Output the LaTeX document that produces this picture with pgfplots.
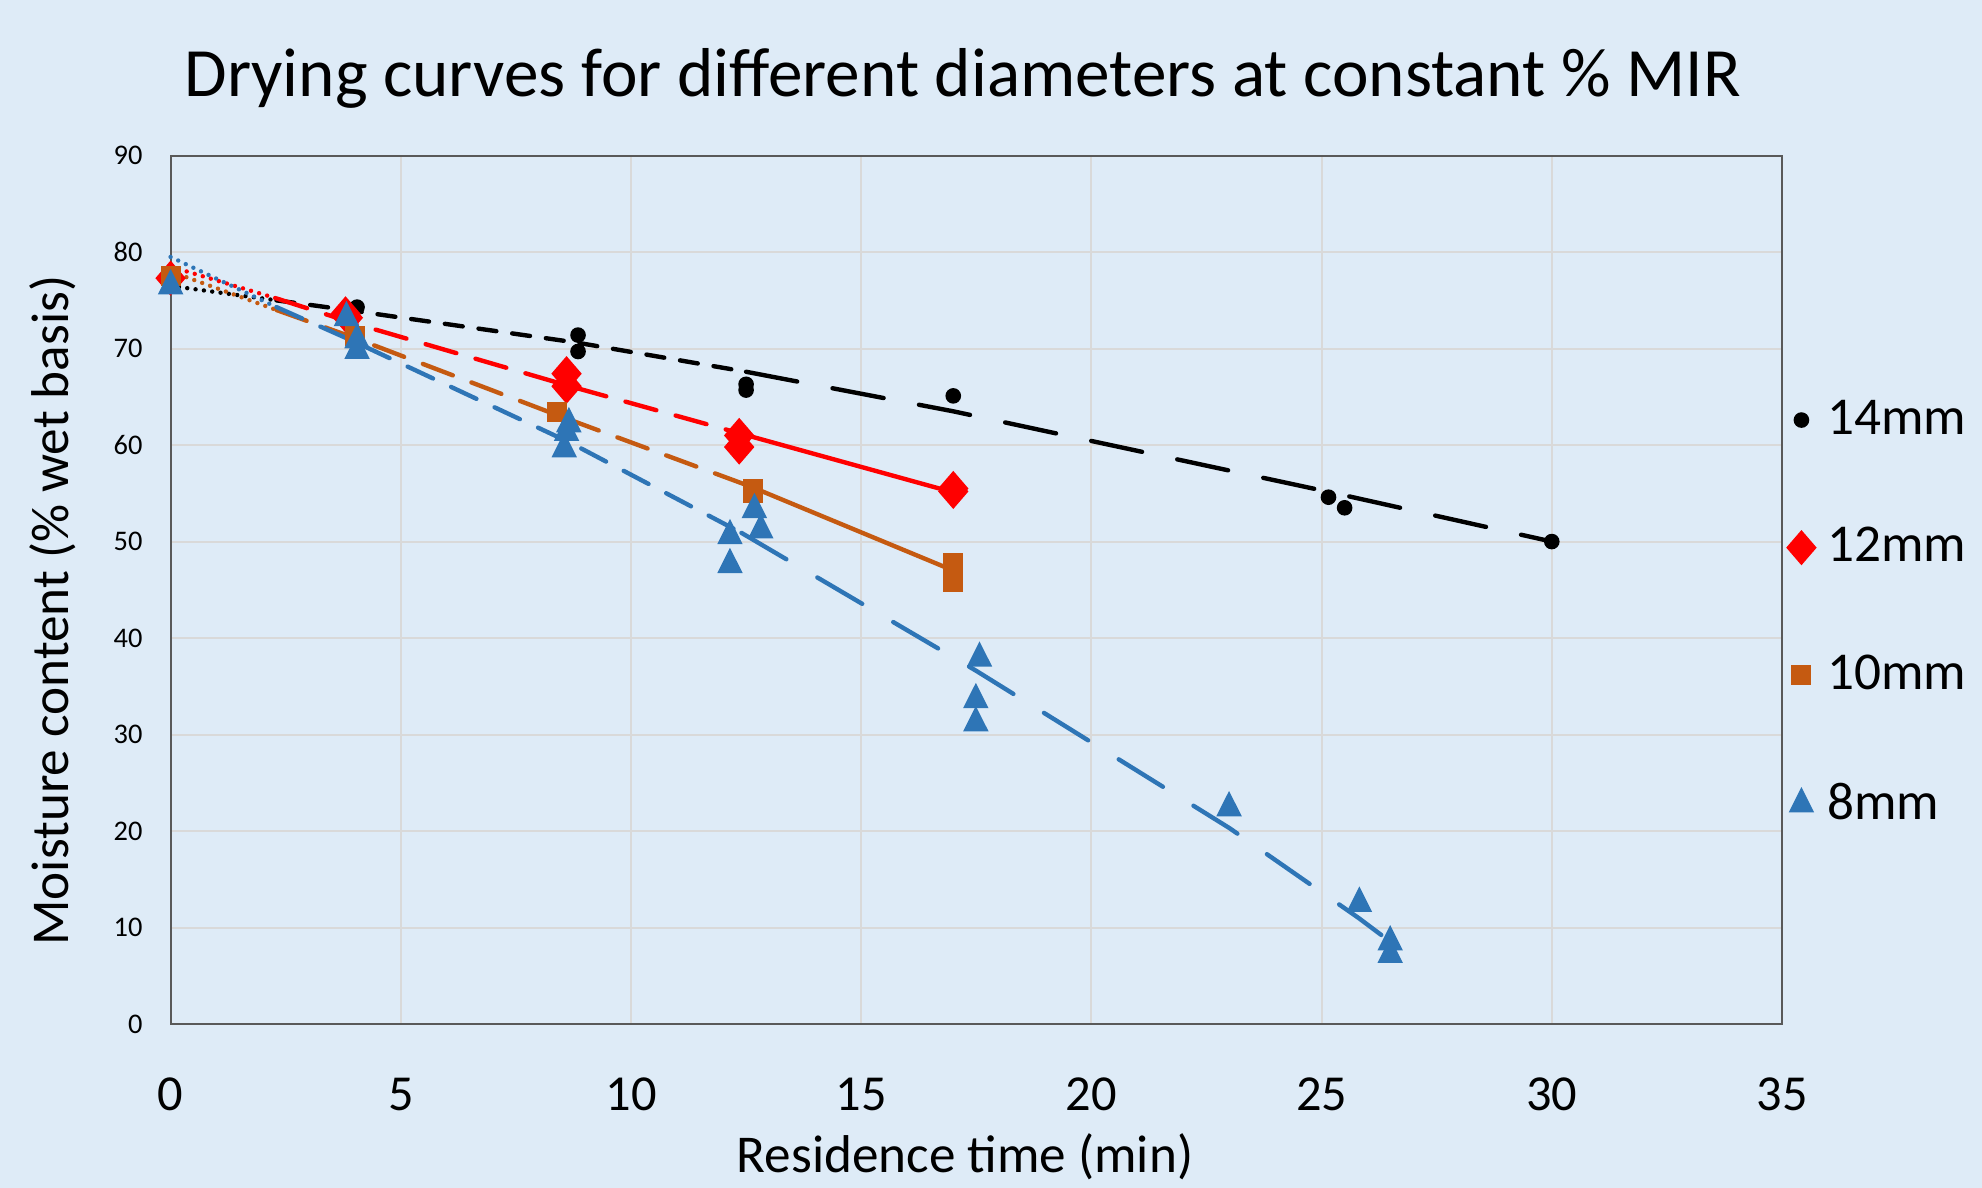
\documentclass[border=0pt]{standalone}
\usepackage{pgfplots}
\pgfplotsset{compat=1.18}
\usepackage{fontspec}
\setmainfont{Carlito}

\definecolor{bg}{HTML}{DEEBF7}
\definecolor{gridc}{HTML}{D9D9D9}
\definecolor{framec}{HTML}{595959}
\definecolor{c14}{HTML}{000000}
\definecolor{c12}{HTML}{FF0000}
\definecolor{c10}{HTML}{C55A11}
\definecolor{c8}{HTML}{2E75B6}

\pgfplotsset{
  seg/.style={line width=1.1pt, line cap=round, no markers, forget plot},
  dotseg/.style={seg, dash pattern=on 0pt off 2.1pt},
  shortdash/.style={seg, dash pattern=on 4.5pt off 4pt},
  middash/.style={seg, dash pattern=on 8pt off 5pt},
  bluedash/.style={seg, dash pattern=on 7pt off 5pt},
  longdash/.style={seg, dash pattern=on 13pt off 9pt},
}

\begin{document}
\begin{tikzpicture}
\path[use as bounding box, fill=bg] (0,0) rectangle (495.5pt,297pt);
\begin{axis}[
    at={(42.65pt,41pt)}, anchor=south west,
    scale only axis, width=402.85pt, height=217.1pt,
    xmin=0, xmax=35, ymin=0, ymax=90,
    xtick={0,5,...,35}, ytick={0,10,...,90},
    grid=major,
    major grid style={gridc, line width=0.5pt},
    axis line style={framec, line width=0.5pt},
    tick style={draw=none},
    clip=false,
    /pgf/number format/assume math mode=true,
    xticklabel style={font=\fontsize{12.6}{14}\selectfont, yshift=-10pt},
    yticklabel style={font=\fontsize{7.1}{8}\selectfont, xshift=-3.5pt},
    title={Drying curves for different diameters at constant \% MIR},
    title style={at={(axis description cs:0.4915,1.041)}, anchor=base,
        yshift=0pt, font=\fontsize{17.3}{20}\selectfont},
    xlabel={Residence time (min)},
    xlabel style={at={(axis description cs:0.493,-0.153)}, anchor=center,
        font=\fontsize{13.3}{16}\selectfont},
    ylabel={Moisture content (\% wet basis)},
    ylabel style={at={(axis description cs:-0.073,0.476)}, anchor=center,
        font=\fontsize{13.3}{16}\selectfont},
    legend style={at={(axis description cs:0.9942,0.738)}, anchor=north west,
        draw=none, fill=none, font=\fontsize{13.3}{15}\selectfont, row sep=17.8pt},
    legend cell align=left,
    legend image code/.code={\path[draw=none] (0pt,0pt) -- (8.5pt,0pt);
        \draw[mark repeat=2,mark phase=2,#1]
        plot coordinates {(0pt,0pt) (4pt,0pt) (8pt,0pt)};},
]

% trend lines, segment by segment
\addplot[dotseg, c14] coordinates {(0,76.5) (2.3,75.0)};
\addplot[shortdash, c14] coordinates {(2.3,75.0) (4,73.9) (8.85,70.6) (12.5,67.6)};
\addplot[longdash, c14] coordinates {(12.5,67.6) (17,63.5) (25.3,55.0) (30,50.0)};

\addplot[dotseg, c12] coordinates {(0,78.5) (2.3,75.2)};
\addplot[middash, c12] coordinates {(2.3,75.2) (4,72.6) (8.6,66.2) (12.3,61.3)};
\addplot[seg, c12] coordinates {(12.3,61.3) (17,55.1)};

\addplot[dotseg, c10] coordinates {(0,78.0) (2.3,74.0)};
\addplot[middash, c10] coordinates {(2.3,74.0) (4,71.1) (8.4,63.1) (12.6,55.7)};
\addplot[seg, c10] coordinates {(12.6,55.7) (17,47.0)};

\addplot[dotseg, c8] coordinates {(0,79.5) (2.3,74.3)};
\addplot[bluedash, c8] coordinates {(2.3,74.3) (4,70.7) (8.7,60.2) (12.4,50.9)};
\addplot[longdash, c8] coordinates {(12.4,50.9) (17.5,36.6) (23,20.3) (25.8,11.0) (26.5,8.5)};

% measured points
\addplot[only marks, mark=*, mark size=1.75pt, c14] coordinates {
    (0,76.5) (4.05,74.3) (8.85,71.4) (8.85,69.7) (12.5,66.3) (12.5,65.7)
    (17.0,65.1) (25.15,54.6) (25.5,53.5) (30,50.0)};
\addlegendentry{14mm}

\addplot[only marks, mark=diamond*, mark size=4.1pt, c12,
    mark options={xscale=1.15}] coordinates {
    (0,77.3) (3.8,73.6) (3.85,73.2) (8.6,67.4) (8.6,66.1) (12.35,61.0)
    (12.35,59.8) (17.0,55.5) (17.0,55.2)};
\addlegendentry{12mm}

\addplot[only marks, mark=square*, mark size=2.3pt, c10] coordinates {
    (0,77.5) (4.0,71.3) (8.4,63.4) (12.66,55.5) (12.66,55.0)
    (17.0,47.8) (17.0,45.8)};
\addlegendentry{10mm}

\addplot[only marks, mark=triangle*, mark size=3.3pt, c8,
    mark options={yscale=1.15}] coordinates {
    (0,76.5) (3.82,73.2) (4.05,70.9) (4.05,69.8) (8.65,62.2) (8.6,61.3)
    (8.55,59.6) (12.15,50.6) (12.15,47.6) (12.68,53.3) (12.82,51.2)
    (17.57,37.9) (17.49,33.6) (17.49,31.2) (22.99,22.4) (25.82,12.5)
    (26.49,8.5) (26.49,7.2)};
\addlegendentry{8mm}

\end{axis}
\end{tikzpicture}
\end{document}
